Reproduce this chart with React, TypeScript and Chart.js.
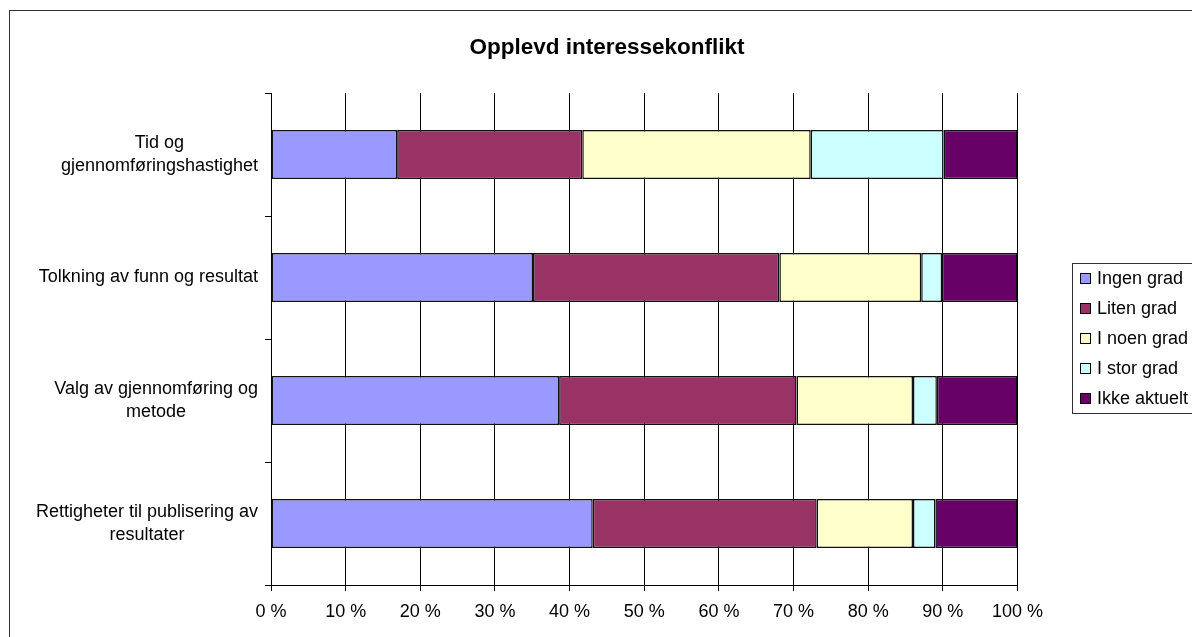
import { useEffect, useRef } from "react";
import { Chart, registerables } from "chart.js";

Chart.register(...registerables);

const chartTitle = "Opplevd interessekonflikt";
const categories: string[][] = [
  ["Tid og", "gjennomføringshastighet"],
  ["Tolkning av funn og resultat"],
  ["Valg av gjennomføring og", "metode"],
  ["Rettigheter til publisering av", "resultater"],
];
const seriesNames = ["Ingen grad", "Liten grad", "I noen grad", "I stor grad", "Ikke aktuelt"];
const seriesColors = ["#9999FF", "#993366", "#FFFFCC", "#CCFFFF", "#660066"];
const ingenGrad = [16.9, 35.1, 38.6, 43.1];
const litenGrad = [24.8, 33.0, 31.8, 30.0];
const iNoenGrad = [30.6, 19.0, 15.6, 12.9];
const iStorGrad = [17.8, 2.8, 3.2, 3.0];
const ikkeAktuelt = [9.9, 10.1, 10.8, 11.0];
const seriesValues = [ingenGrad, litenGrad, iNoenGrad, iStorGrad, ikkeAktuelt];
const xTickValues = [0, 10, 20, 30, 40, 50, 60, 70, 80, 90, 100];
const xTickLabels = xTickValues.map((v) => v + " %");

const FONT = '"Liberation Sans", Arial, sans-serif';
const W = 1196;
const H = 650;

const decor = {
  id: "decor",
  beforeDraw(chart: any) {
    const ctx = chart.ctx;
    ctx.save();
    ctx.fillStyle = "#fff";
    ctx.fillRect(0, 0, chart.width, chart.height);
    ctx.restore();
  },
  afterDraw(chart: any) {
    const ctx = chart.ctx;
    ctx.save();
    // frame
    ctx.strokeStyle = "#333";
    ctx.lineWidth = 1;
    ctx.strokeRect(0.5, 0.5, chart.width - 1, chart.height - 1);
    // title
    ctx.fillStyle = "#000";
    ctx.font = "bold 22.5px " + FONT;
    ctx.textAlign = "center";
    ctx.textBaseline = "middle";
    ctx.fillText(chartTitle, chart.width / 2, 38);
    // y labels
    const ys = chart.scales.y;
    ctx.font = "18px " + FONT;
    categories.forEach((lines, i) => {
      const cy = ys.getPixelForValue(i);
      const maxW = Math.max(...lines.map((l) => ctx.measureText(l).width));
      const cx = ys.right - 13 - maxW / 2;
      const n = lines.length;
      lines.forEach((l, j) => {
        ctx.fillText(l, cx, cy + (j - (n - 1) / 2) * 22.5);
      });
    });
    // legend
    const lx = 1063;
    const ly = 253;
    const step = 30;
    const n = chart.data.datasets.length;
    ctx.strokeStyle = "#333";
    ctx.strokeRect(lx + 0.5, ly + 0.5, 150, n * step);
    ctx.textAlign = "left";
    chart.data.datasets.forEach((ds: any, i: number) => {
      const cy = ly + 15 + i * step;
      ctx.fillStyle = ds.backgroundColor;
      ctx.fillRect(lx + 8, cy - 5, 10, 10);
      ctx.strokeStyle = "#000";
      ctx.strokeRect(lx + 8.5, cy - 4.5, 10, 10);
      ctx.fillStyle = "#000";
      ctx.fillText(ds.label, lx + 25, cy + 1);
    });
    ctx.restore();
  },
};

export default function App() {
  const ref = useRef<HTMLCanvasElement>(null);
  useEffect(() => {
    if (!ref.current) return;
    Chart.defaults.font.family = FONT;
    const chart = new Chart(ref.current, {
      type: "bar",
      data: {
        labels: categories.map((c) => c.join(" ")),
        datasets: seriesNames.map((name, i) => ({
          label: name,
          data: seriesValues[i],
          backgroundColor: seriesColors[i],
          borderColor: "#111",
          borderWidth: 1.5,
          borderSkipped: false,
          barPercentage: 0.8,
          categoryPercentage: 0.5,
        })),
      },
      options: {
        indexAxis: "y",
        responsive: false,
        animation: false,
        layout: { padding: { left: 0, top: 83, right: W - 1008.5, bottom: H - 575 - 40 } },
        plugins: {
          legend: { display: false },
          title: { display: false },
          tooltip: { enabled: false },
        },
        scales: {
          x: {
            stacked: true,
            min: 0,
            max: 100,
            afterBuildTicks: (s: any) => {
              s.ticks = xTickValues.map((v) => ({ value: v }));
            },
            ticks: {
              callback: (_v: any, idx: number) => xTickLabels[idx],
              color: "#000",
              font: { size: 18 },
              padding: 10,
              maxRotation: 0,
              autoSkip: false,
            },
            grid: { color: "#000", lineWidth: 1, tickLength: 6, drawTicks: true },
            border: { color: "#000", width: 1 },
            afterFit: (s: any) => {
              s.height = 40;
            },
          },
          y: {
            stacked: true,
            ticks: { display: false },
            grid: { drawOnChartArea: false, color: "#000", tickLength: 6, offset: true },
            border: { color: "#000", width: 1 },
            afterFit: (s: any) => {
              s.width = 262;
            },
          },
        },
      },
      plugins: [decor],
    } as any);
    return () => chart.destroy();
  }, []);
  return (
    <div style={{ position: "fixed", left: 0, top: 0, width: 1192, height: 637, overflow: "hidden", background: "#fff" }}>
      <div style={{ position: "absolute", left: 9, top: 10, width: W, height: H }}>
        <canvas ref={ref} width={W} height={H} style={{ width: W, height: H, display: "block" }} />
      </div>
    </div>
  );
}
